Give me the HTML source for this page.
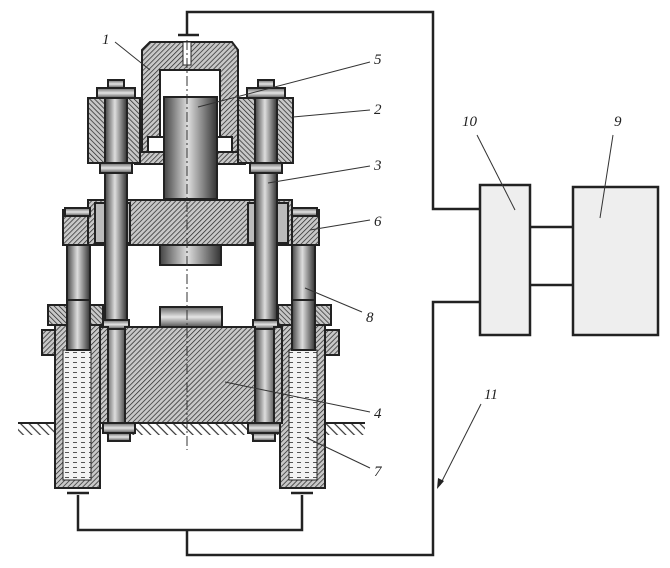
<!DOCTYPE html>
<html><head><style>html,body{margin:0;padding:0;background:#fff}svg{display:block}</style></head>
<body>
<svg width="670" height="568" viewBox="0 0 670 568" xmlns="http://www.w3.org/2000/svg" font-family="Liberation Serif, serif" font-style="italic" font-size="15">
<defs>
<pattern id="h" width="3.5" height="3.5" patternUnits="userSpaceOnUse" patternTransform="rotate(45)"><rect width="4" height="4" fill="#c8c8c8"/><line x1="0" y1="0" x2="0" y2="4" stroke="#222" stroke-width="1.4"/></pattern>
<pattern id="h2" width="3.5" height="3.5" patternUnits="userSpaceOnUse" patternTransform="rotate(-45)"><rect width="4" height="4" fill="#c8c8c8"/><line x1="0" y1="0" x2="0" y2="4" stroke="#222" stroke-width="1.4"/></pattern>
<pattern id="g" width="12" height="6" patternUnits="userSpaceOnUse" patternTransform="rotate(45)"><line x1="0" y1="3" x2="12" y2="3" stroke="#333" stroke-width="1.2"/></pattern>
<pattern id="liq" width="8" height="5" patternUnits="userSpaceOnUse"><rect width="8" height="5" fill="#f3f3f3"/><line x1="1" y1="2.5" x2="5" y2="2.5" stroke="#555" stroke-width="1"/></pattern>
<linearGradient id="cyl" x1="0" x2="1"><stop offset="0" stop-color="#444"/><stop offset="0.45" stop-color="#ddd"/><stop offset="1" stop-color="#333"/></linearGradient>
<linearGradient id="cylv" x1="0" y1="0" x2="0" y2="1"><stop offset="0" stop-color="#666"/><stop offset="0.5" stop-color="#e5e5e5"/><stop offset="1" stop-color="#555"/></linearGradient>
</defs>
<g stroke="#222" stroke-width="2.5" fill="none">
<polyline points="187,35 187,12 433,12 433,209 480,209"/>
<polyline points="480,302 433,302 433,555 187,555 187,530"/>
<polyline points="78,495 78,530 302,530 302,495"/>
<line x1="178" y1="35" x2="199" y2="35"/>
<line x1="67" y1="493" x2="89" y2="493"/>
<line x1="291" y1="493" x2="313" y2="493"/>
<line x1="530" y1="227" x2="573" y2="227"/>
<line x1="530" y1="285" x2="573" y2="285"/>
</g>
<rect x="480" y="185" width="50" height="150" fill="#eee" stroke="#222" stroke-width="2.5"/>
<rect x="573" y="187" width="85" height="148" fill="#eee" stroke="#222" stroke-width="2.5"/>
<rect x="18" y="423" width="347" height="12" fill="url(#g)"/>
<line x1="18" y1="423" x2="365" y2="423" stroke="#222" stroke-width="2"/>
<g stroke="#222" stroke-width="2">
<path d="M142,50 L150,42 L232,42 L238,50 L238,155 L220,155 L220,70 L160,70 L160,155 L142,155 Z" fill="url(#h)"/>
<rect x="183" y="42" width="8" height="23" fill="#fff" stroke-width="1"/>
<rect x="148" y="137" width="16" height="15" fill="#fff"/>
<rect x="216" y="137" width="16" height="15" fill="#fff"/>
<rect x="135" y="152" width="110" height="12" fill="url(#h)"/>
<rect x="88" y="98" width="52" height="65" fill="url(#h2)"/>
<rect x="238" y="98" width="55" height="65" fill="url(#h2)"/>
<rect x="164" y="97" width="53" height="102" fill="url(#cyl)"/>
<rect x="63" y="210" width="30" height="35" fill="url(#h)"/>
<rect x="287" y="210" width="32" height="35" fill="url(#h)"/>
<rect x="88" y="200" width="204" height="45" fill="url(#h)"/>
<rect x="95" y="203" width="35" height="40" fill="#bbb"/>
<rect x="248" y="203" width="40" height="40" fill="#bbb"/>
<rect x="160" y="245" width="61" height="20" fill="url(#cyl)"/>
<rect x="67" y="245" width="23" height="95" fill="url(#cyl)"/>
<rect x="292" y="245" width="23" height="95" fill="url(#cyl)"/>
<rect x="65" y="208" width="25" height="8" fill="url(#cylv)"/>
<rect x="292" y="208" width="25" height="8" fill="url(#cylv)"/>
<rect x="105" y="90" width="22" height="340" fill="url(#cyl)"/>
<rect x="255" y="90" width="22" height="340" fill="url(#cyl)"/>
<rect x="97" y="88" width="38" height="10" fill="url(#cylv)"/>
<rect x="247" y="88" width="38" height="10" fill="url(#cylv)"/>
<rect x="108" y="80" width="16" height="8" fill="url(#cylv)"/>
<rect x="258" y="80" width="16" height="8" fill="url(#cylv)"/>
<rect x="100" y="163" width="32" height="10" fill="url(#cylv)"/>
<rect x="250" y="163" width="32" height="10" fill="url(#cylv)"/>
<rect x="103" y="320" width="26" height="9" fill="url(#cylv)"/>
<rect x="253" y="320" width="26" height="9" fill="url(#cylv)"/>
<rect x="48" y="305" width="55" height="20" fill="url(#h2)"/>
<rect x="278" y="305" width="53" height="20" fill="url(#h2)"/>
<rect x="42" y="330" width="14" height="25" fill="url(#h)"/>
<rect x="325" y="330" width="14" height="25" fill="url(#h)"/>
<rect x="55" y="325" width="45" height="163" fill="url(#h)"/>
<rect x="280" y="325" width="45" height="163" fill="url(#h)"/>
<rect x="63" y="350" width="28" height="130" fill="url(#liq)" stroke-width="1"/>
<rect x="289" y="350" width="28" height="130" fill="url(#liq)" stroke-width="1"/>
<rect x="67" y="300" width="23" height="50" fill="url(#cyl)"/>
<rect x="292" y="300" width="23" height="50" fill="url(#cyl)"/>
<rect x="125" y="327" width="130" height="96" fill="url(#h)"/>
<rect x="100" y="327" width="8" height="96" fill="url(#h)"/>
<rect x="274" y="327" width="8" height="96" fill="url(#h)"/>
<rect x="160" y="307" width="62" height="20" fill="url(#cylv)"/>
<rect x="103" y="423" width="32" height="10" fill="url(#cylv)"/>
<rect x="248" y="423" width="32" height="10" fill="url(#cylv)"/>
<rect x="108" y="433" width="22" height="8" fill="url(#cylv)"/>
<rect x="253" y="433" width="22" height="8" fill="url(#cylv)"/>
</g>
<line x1="187" y1="40" x2="187" y2="450" stroke="#333" stroke-width="1" stroke-dasharray="10,3,2,3"/>
<g stroke="#333" stroke-width="1">
<line x1="115" y1="42" x2="150" y2="70"/>
<line x1="370" y1="62" x2="198" y2="107"/>
<line x1="370" y1="110" x2="293" y2="117"/>
<line x1="370" y1="166" x2="268" y2="183"/>
<line x1="370" y1="220" x2="310" y2="230"/>
<line x1="362" y1="312" x2="305" y2="288"/>
<line x1="370" y1="412" x2="225" y2="382"/>
<line x1="370" y1="468" x2="307" y2="438"/>
<line x1="477" y1="135" x2="515" y2="210"/>
<line x1="613" y1="135" x2="600" y2="218"/>
<line x1="481" y1="404" x2="440" y2="485"/>
</g>
<polygon points="437,489 438,478 444,481" fill="#222"/>
<g fill="#222">
<text x="102" y="44">1</text>
<text x="374" y="64">5</text>
<text x="374" y="114">2</text>
<text x="374" y="170">3</text>
<text x="374" y="226">6</text>
<text x="366" y="322">8</text>
<text x="374" y="418">4</text>
<text x="374" y="476">7</text>
<text x="462" y="126">10</text>
<text x="614" y="126">9</text>
<text x="484" y="399">11</text>
</g>
</svg>
</body></html>
